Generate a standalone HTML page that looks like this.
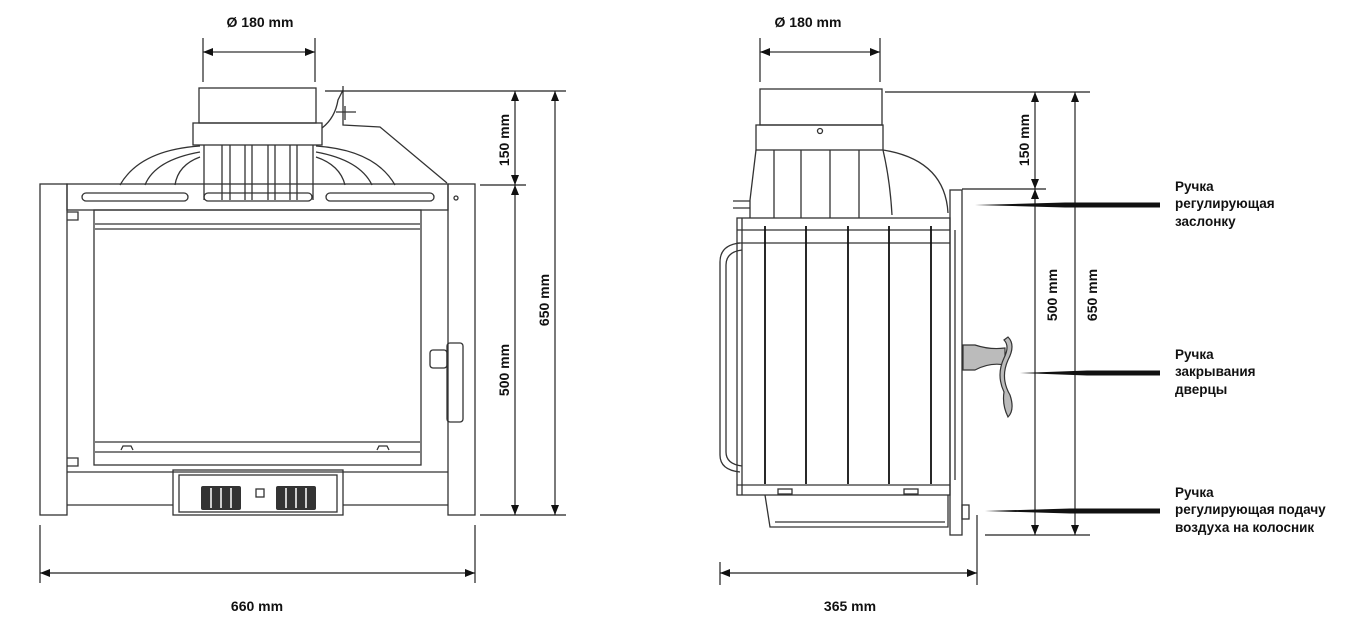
<!DOCTYPE html>
<html><head><meta charset="utf-8"><style>
html,body{margin:0;padding:0;background:#fff;}
svg{display:block;}
text{font-family:"Liberation Sans",Arial,sans-serif;font-weight:bold;fill:#111;}
</style></head><body>
<svg width="1369" height="637" viewBox="0 0 1369 637" xmlns="http://www.w3.org/2000/svg">
<defs>
<marker id="a" markerWidth="10" markerHeight="8" refX="10" refY="4" orient="auto-start-reverse" markerUnits="userSpaceOnUse"><path d="M0,0 L10,4 L0,8 z" fill="#111"/></marker>
</defs>
<g stroke="#333" stroke-width="1.3" fill="none">
<!-- FRONT VIEW -->
<line x1="203" y1="38" x2="203" y2="82"/><line x1="315" y1="38" x2="315" y2="82"/>
<line x1="203" y1="52" x2="315" y2="52" marker-start="url(#a)" marker-end="url(#a)"/>
<rect x="199" y="88" width="117" height="35"/>
<rect x="193" y="123" width="129" height="22"/>
<path d="M120,185 Q140,150 200,146 M316,146 Q375,150 395,185"/>
<path d="M145,185 Q155,160 200,152 M316,152 Q360,160 372,185"/>
<path d="M175,185 Q178,165 200,157 M316,157 Q340,165 345,185"/>
<line x1="204" y1="145" x2="204" y2="200"/><line x1="222" y1="145" x2="222" y2="200"/>
<line x1="230" y1="145" x2="230" y2="200"/><line x1="245" y1="145" x2="245" y2="200"/>
<line x1="252" y1="145" x2="252" y2="200"/><line x1="268" y1="145" x2="268" y2="200"/>
<line x1="275" y1="145" x2="275" y2="200"/><line x1="290" y1="145" x2="290" y2="200"/>
<line x1="297" y1="145" x2="297" y2="200"/><line x1="313" y1="145" x2="313" y2="200"/>
<path d="M322,128 Q335,118 338,100 L343,90 M343,86 L343,125 L380,127 L447,183"/>
<path d="M336,112 L356,112 M345,106 L345,120"/>
<rect x="40" y="184" width="27" height="331"/>
<rect x="448" y="184" width="27" height="331"/>
<rect x="67" y="184" width="381" height="26"/>
<rect x="82" y="193" width="106" height="8" rx="4"/>
<rect x="204" y="193" width="108" height="8" rx="4"/>
<rect x="326" y="193" width="108" height="8" rx="4"/>
<circle cx="456" cy="198" r="2"/>
<rect x="94" y="210" width="327" height="255"/>
<line x1="95" y1="224" x2="420" y2="224"/><line x1="95" y1="229" x2="420" y2="229"/>
<line x1="95" y1="442" x2="420" y2="442"/><line x1="95" y1="452" x2="420" y2="452"/>
<path d="M121,450 L123,446 L131,446 L133,450 M377,450 L379,446 L387,446 L389,450"/>
<path d="M67,212 L78,212 L78,220 L67,220 M67,458 L78,458 L78,466 L67,466"/>
<line x1="67" y1="472" x2="448" y2="472"/>
<rect x="173" y="470" width="170" height="45"/>
<rect x="179" y="475" width="158" height="37"/>
<line x1="67" y1="505" x2="173" y2="505"/><line x1="343" y1="505" x2="448" y2="505"/>
<rect x="430" y="350" width="17" height="18" rx="3"/>
<rect x="447" y="343" width="16" height="79" rx="3"/>
<rect x="256" y="489" width="8" height="8"/>
</g>
<g fill="#333">
<rect x="201" y="486" width="40" height="24" rx="2"/>
<rect x="276" y="486" width="40" height="24" rx="2"/>
</g>
<g stroke="#fff" stroke-width="1.5">
<line x1="211" y1="488" x2="211" y2="508"/><line x1="221" y1="488" x2="221" y2="508"/><line x1="231" y1="488" x2="231" y2="508"/>
<line x1="286" y1="488" x2="286" y2="508"/><line x1="296" y1="488" x2="296" y2="508"/><line x1="306" y1="488" x2="306" y2="508"/>
</g>
<g stroke="#222" stroke-width="1.2" fill="none">
<line x1="325" y1="91" x2="566" y2="91"/>
<line x1="480" y1="185" x2="526" y2="185"/>
<line x1="480" y1="515" x2="566" y2="515"/>
<line x1="515" y1="91" x2="515" y2="185" marker-start="url(#a)" marker-end="url(#a)"/>
<line x1="515" y1="185" x2="515" y2="515" marker-start="url(#a)" marker-end="url(#a)"/>
<line x1="555" y1="91" x2="555" y2="515" marker-start="url(#a)" marker-end="url(#a)"/>
<line x1="40" y1="525" x2="40" y2="583"/><line x1="475" y1="525" x2="475" y2="583"/>
<line x1="40" y1="573" x2="475" y2="573" marker-start="url(#a)" marker-end="url(#a)"/>
</g>
<text x="260" y="27" font-size="14" text-anchor="middle">Ø 180 mm</text>
<text x="257" y="611" font-size="14" text-anchor="middle">660 mm</text>
<text font-size="14" text-anchor="middle" transform="translate(509,140) rotate(-90)">150 mm</text>
<text font-size="14" text-anchor="middle" transform="translate(509,370) rotate(-90)">500 mm</text>
<text font-size="14" text-anchor="middle" transform="translate(549,300) rotate(-90)">650 mm</text>

<!-- SIDE VIEW -->
<g stroke="#333" stroke-width="1.3" fill="none">
<line x1="760" y1="38" x2="760" y2="82"/><line x1="880" y1="38" x2="880" y2="82"/>
<line x1="760" y1="52" x2="880" y2="52" marker-start="url(#a)" marker-end="url(#a)"/>
<rect x="760" y="89" width="122" height="36"/>
<rect x="756" y="125" width="127" height="25"/>
<circle cx="820" cy="131" r="2.5"/>
<path d="M756,150 L750,200 L750,218"/>
<path d="M883,150 Q945,160 948,213"/>
<path d="M883,150 Q890,180 892,215"/>
<line x1="733" y1="201" x2="750" y2="201"/><line x1="733" y1="208" x2="750" y2="208"/>
<line x1="774" y1="150" x2="774" y2="218"/><line x1="801" y1="150" x2="801" y2="218"/>
<line x1="830" y1="150" x2="830" y2="218"/><line x1="859" y1="150" x2="859" y2="218"/>
<rect x="737" y="218" width="213" height="277"/>
<line x1="737" y1="230" x2="950" y2="230"/><line x1="737" y1="243" x2="950" y2="243"/>
<line x1="742" y1="218" x2="742" y2="495"/>
<line x1="737" y1="485" x2="950" y2="485"/>
<path d="M740,243 Q720,245 720,262 L720,455 Q720,470 740,472"/>
<path d="M742,250 Q726,252 726,265 L726,452 Q726,464 742,466"/>
<path d="M765,495 L770,527 L948,527 L948,495"/>
<line x1="775" y1="522" x2="945" y2="522"/>
<rect x="778" y="489" width="14" height="5"/><rect x="904" y="489" width="14" height="5"/>
<rect x="950" y="190" width="12" height="345"/>
<line x1="955" y1="230" x2="955" y2="480"/>
<rect x="962" y="505" width="7" height="14"/>
<line x1="977" y1="515" x2="977" y2="585"/>
</g>
<g stroke="#111" stroke-width="1.8" fill="none">
<line x1="765" y1="226" x2="765" y2="484"/><line x1="806" y1="226" x2="806" y2="484"/>
<line x1="848" y1="226" x2="848" y2="484"/><line x1="889" y1="226" x2="889" y2="484"/>
<line x1="931" y1="226" x2="931" y2="484"/>
</g>
<path d="M963,345 L975,345 Q990,350 1005,348 L1005,365 Q990,362 975,370 L963,370 Z" fill="#bbb" stroke="#333" stroke-width="1.2"/>
<path d="M1008,337 Q1016,345 1008,360 Q1000,378 1010,395 Q1015,410 1008,417 Q1002,405 1004,392 Q996,375 1004,358 Q1010,346 1004,340 Z" fill="#bbb" stroke="#333" stroke-width="1.2"/>
<g stroke="#222" stroke-width="1.2" fill="none">
<line x1="885" y1="92" x2="1090" y2="92"/>
<line x1="962" y1="189" x2="1046" y2="189"/>
<line x1="985" y1="535" x2="1090" y2="535"/>
<line x1="1035" y1="92" x2="1035" y2="189" marker-start="url(#a)" marker-end="url(#a)"/>
<line x1="1035" y1="189" x2="1035" y2="535" marker-start="url(#a)" marker-end="url(#a)"/>
<line x1="1075" y1="92" x2="1075" y2="535" marker-start="url(#a)" marker-end="url(#a)"/>
<line x1="720" y1="562" x2="720" y2="585"/>
<line x1="720" y1="573" x2="977" y2="573" marker-start="url(#a)" marker-end="url(#a)"/>
</g>
<g fill="#111">
<path d="M975,205 L1065,202.5 L1160,202.5 L1160,207.5 L1065,207.5 Z"/>
<path d="M1020,373 L1087,370.5 L1160,370.5 L1160,375.5 L1087,375.5 Z"/>
<path d="M985,511 L1070,508.5 L1160,508.5 L1160,513.5 L1070,513.5 Z"/>
</g>
<text x="808" y="27" font-size="14" text-anchor="middle">Ø 180 mm</text>
<text x="850" y="611" font-size="14" text-anchor="middle">365 mm</text>
<text font-size="14" text-anchor="middle" transform="translate(1029,140) rotate(-90)">150 mm</text>
<text font-size="14" text-anchor="middle" transform="translate(1057,295) rotate(-90)">500 mm</text>
<text font-size="14" text-anchor="middle" transform="translate(1097,295) rotate(-90)">650 mm</text>
<g font-size="13.5">
<text x="1175" y="191">Ручка</text><text x="1175" y="208">регулирующая</text><text x="1175" y="226">заслонку</text>
<text x="1175" y="359">Ручка</text><text x="1175" y="376">закрывания</text><text x="1175" y="394">дверцы</text>
<text x="1175" y="497">Ручка</text><text x="1175" y="514">регулирующая подачу</text><text x="1175" y="532">воздуха на колосник</text>
</g>
</svg>
</body></html>
